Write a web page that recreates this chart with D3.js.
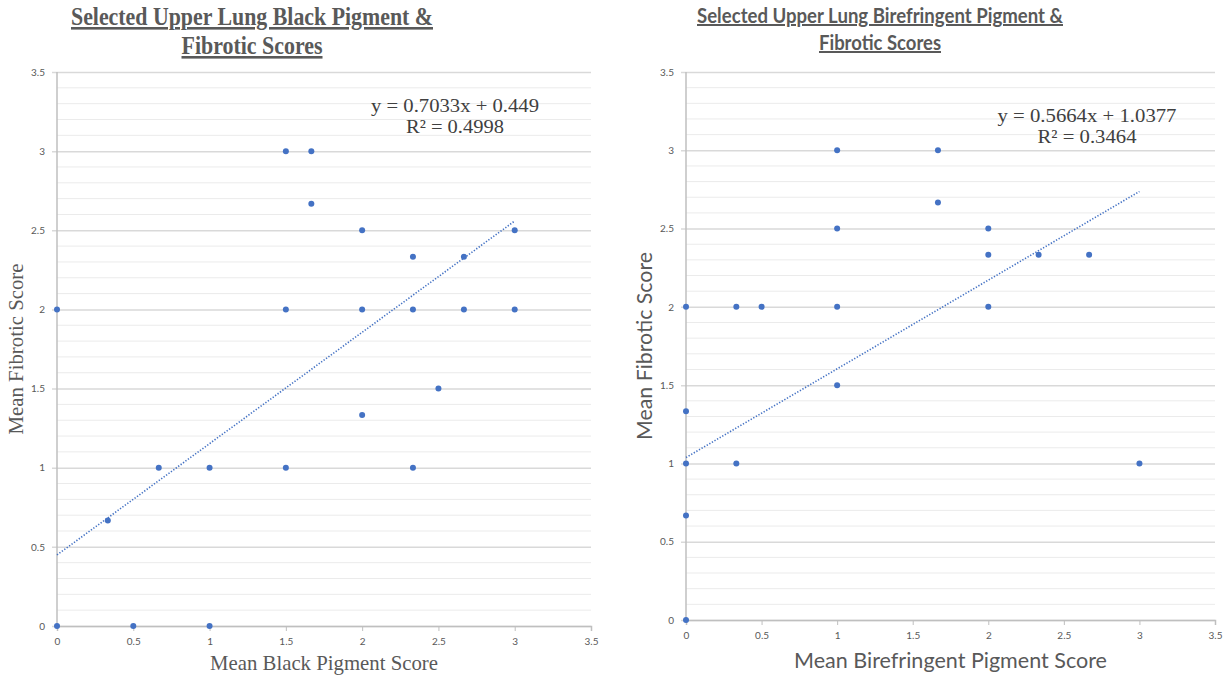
<!DOCTYPE html>
<html>
<head>
<meta charset="utf-8">
<script src="https://cdn.jsdelivr.net/npm/d3@7"></script>
<style>
body { margin: 0; background: #fff; }
.tick text { font-family: Lato, "Noto Sans", sans-serif; font-size: 10px; fill: #595959; }
</style>
</head>
<body>
<svg id="chart" width="1231" height="679"></svg>
<script>
// ---- data ----
// left panel: black pigment vs fibrotic score
const blackX = [0, 0, 0.5, 1, 0.333, 0.667, 1, 1.5, 1.5, 1.667, 1.667, 1.5, 2, 2, 2, 2.333, 2.333, 2.333, 2.5, 2.667, 2.667, 3, 3];
const blackY = [2, 0, 0, 0, 0.667, 1, 1, 1, 3, 3, 2.667, 2, 2.5, 2, 1.333, 2.333, 2, 1, 1.5, 2.333, 2, 2.5, 2];
const blackTrend = [0.7033, 0.449];   // slope, intercept
const blackLabels = ["y = 0.7033x + 0.449", "R² = 0.4998"];

// right panel: birefringent pigment vs fibrotic score
const birefX = [0, 0, 0, 0, 0, 0.333, 0.333, 0.5, 1, 1, 1, 1, 1.667, 1.667, 2, 2, 2, 2.333, 2.667, 3];
const birefY = [2, 1.333, 1, 0.667, 0, 2, 1, 2, 3, 2.5, 2, 1.5, 3, 2.667, 2.5, 2.333, 2, 2.333, 2.333, 1];
const birefTrend = [0.5664, 1.0377];
const birefLabels = ["y = 0.5664x + 1.0377", "R² = 0.3464"];

const tickValues = [0, 0.5, 1, 1.5, 2, 2.5, 3, 3.5];
const minorValues = [0.1, 0.2, 0.3, 0.4, 0.6, 0.7, 0.8, 0.9, 1.1, 1.2, 1.3, 1.4, 1.6, 1.7, 1.8, 1.9,
                     2.1, 2.2, 2.3, 2.4, 2.6, 2.7, 2.8, 2.9, 3.1, 3.2, 3.3, 3.4];

const blue = "#4472C4";
const svg = d3.select("#chart");

// helper: text squeezed to a given width (the source image is a bit compressed)
function label(g, txt, x, y, font, size, width, opts) {
  opts = opts || {};
  const t = g.append("text")
    .attr("x", x).attr("y", y)
    .attr("text-anchor", "middle")
    .style("font-family", font)
    .style("font-size", size + "px")
    .style("font-weight", opts.bold ? "bold" : "normal")
    .style("fill", opts.color || "#595959")
    .text(txt);
  if (opts.underline) t.style("text-decoration", "underline");
  if (width) t.attr("textLength", width).attr("lengthAdjust", "spacingAndGlyphs");
  if (opts.rotate) t.attr("transform", "rotate(-90," + x + "," + y + ")");
  return t;
}

function drawPanel(cfg) {
  const g = svg.append("g");
  const x = d3.scaleLinear().domain([0, 3.5]).range([cfg.left, cfg.right]);
  const y = d3.scaleLinear().domain([0, 3.5]).range([cfg.bottom, cfg.top]);

  // minor gridlines every 0.1
  g.append("g").selectAll("line")
    .data(minorValues)
    .join("line")
      .attr("x1", cfg.left).attr("x2", cfg.right)
      .attr("y1", d => y(d)).attr("y2", d => y(d))
      .attr("stroke", "#ebebeb").attr("stroke-width", 1);

  // major gridlines + y tick labels
  const yAxis = g.append("g")
    .attr("transform", "translate(" + (cfg.left - 5) + ",0)")
    .call(d3.axisLeft(y).tickValues(tickValues).tickSize(-(cfg.right - cfg.left + 5)).tickPadding(7).tickFormat(d3.format("")));
  yAxis.select(".domain").remove();
  yAxis.selectAll(".tick line").attr("stroke", "#d9d9d9").attr("stroke-width", 1.5);

  // x axis with small ticks
  const xAxis = g.append("g")
    .attr("transform", "translate(0," + cfg.bottom + ")")
    .call(d3.axisBottom(x).tickValues(tickValues).tickSize(5).tickPadding(7).tickFormat(d3.format("")));
  xAxis.select(".domain").attr("stroke", "#bfbfbf").attr("stroke-width", 1.5);
  xAxis.selectAll(".tick line").attr("stroke", "#bfbfbf");

  // y axis line
  g.append("line")
    .attr("x1", x(0)).attr("x2", x(0))
    .attr("y1", cfg.top).attr("y2", cfg.bottom)
    .attr("stroke", "#bfbfbf").attr("stroke-width", 1.5);

  // trendline over the data range
  const xs = [d3.min(cfg.xs), d3.max(cfg.xs)];
  g.append("line")
    .attr("x1", x(xs[0])).attr("y1", y(cfg.trend[0] * xs[0] + cfg.trend[1]))
    .attr("x2", x(xs[1])).attr("y2", y(cfg.trend[0] * xs[1] + cfg.trend[1]))
    .attr("stroke", blue).attr("stroke-width", 1.6)
    .attr("stroke-dasharray", "1.3,1.7");

  // points
  g.append("g").selectAll("circle")
    .data(d3.range(cfg.xs.length))
    .join("circle")
      .attr("cx", i => x(cfg.xs[i]))
      .attr("cy", i => y(cfg.ys[i]))
      .attr("r", 3)
      .attr("fill", blue);

  // equation
  label(g, cfg.eq[0], cfg.eqX, cfg.eqY, "'Liberation Serif', serif", 19.5, cfg.eqW[0], {color: "#404040"});
  label(g, cfg.eq[1], cfg.eqX, cfg.eqY + 21, "'Liberation Serif', serif", 19.5, cfg.eqW[1], {color: "#404040"});

  // titles
  cfg.title.forEach((t, i) => {
    label(g, t, cfg.titleX, cfg.titleY[i], cfg.titleFont, cfg.titleSize, cfg.titleW[i],
      {bold: true, underline: true, color: "#595959"});
  });
  label(g, cfg.xTitle, (cfg.left + cfg.right) / 2, cfg.xTitleY, cfg.axisFont, cfg.axisSize, cfg.xTitleW, {color: "#595959"});
  label(g, cfg.yTitle, cfg.yTitleX, (cfg.top + cfg.bottom) / 2, cfg.axisFont, cfg.axisSize, cfg.yTitleW, {color: "#595959", rotate: true});
}

drawPanel({
  left: 57, right: 591, top: 72, bottom: 626,
  xs: blackX, ys: blackY, trend: blackTrend, eq: blackLabels,
  eqX: 455, eqY: 112, eqW: [168, 98],
  title: ["Selected Upper Lung Black Pigment &", "Fibrotic Scores"],
  titleX: 252, titleY: [25, 54], titleW: [362, 141],
  titleFont: "'Liberation Serif', serif", titleSize: 26,
  xTitle: "Mean Black Pigment Score", xTitleY: 670, xTitleW: 228,
  yTitle: "Mean Fibrotic Score", yTitleX: 23, yTitleW: 171,
  axisFont: "'Liberation Serif', serif", axisSize: 22
});

drawPanel({
  left: 686, right: 1215, top: 72, bottom: 620,
  xs: birefX, ys: birefY, trend: birefTrend, eq: birefLabels,
  eqX: 1087, eqY: 122, eqW: [179, 99],
  title: ["Selected Upper Lung Birefringent Pigment &", "Fibrotic Scores"],
  titleX: 880, titleY: [23, 50], titleW: [366, 122],
  titleFont: "Lato, 'Noto Sans', sans-serif", titleSize: 20,
  xTitle: "Mean Birefringent Pigment Score", xTitleY: 668, xTitleW: 313,
  yTitle: "Mean Fibrotic Score", yTitleX: 652, yTitleW: 188,
  axisFont: "Lato, 'Noto Sans', sans-serif", axisSize: 21
});
</script>
</body>
</html>
